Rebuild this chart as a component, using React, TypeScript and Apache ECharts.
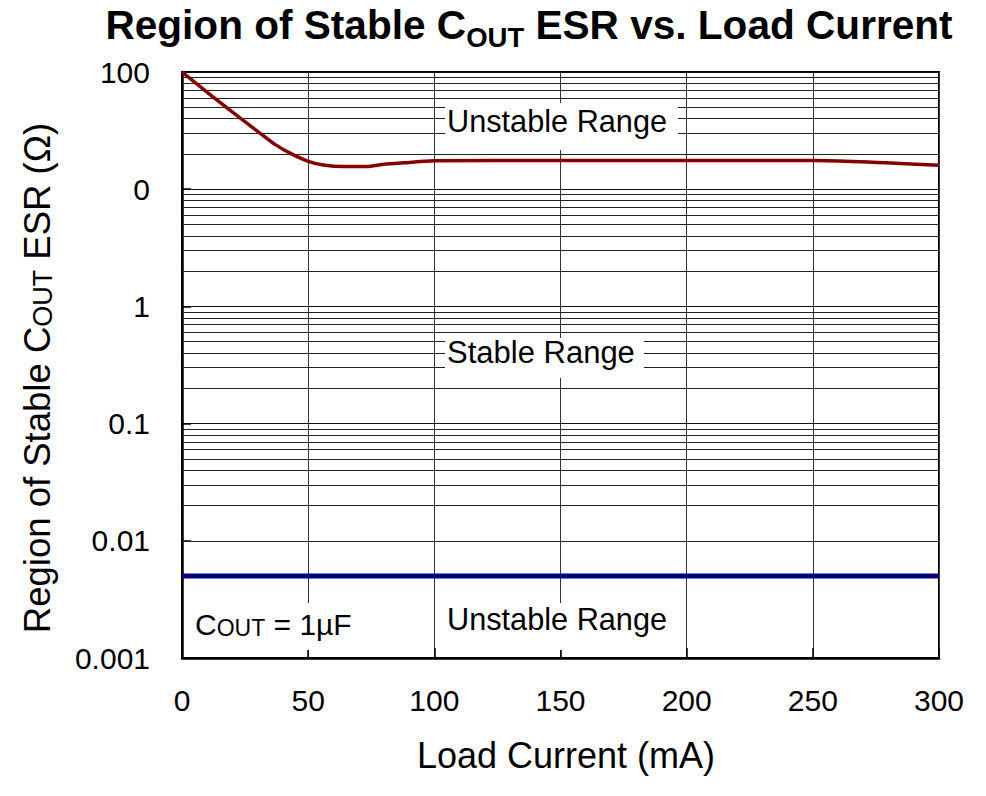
import React, { useEffect, useRef } from "react";
import * as echarts from "echarts";

// ---- data ----
const loadCurrent = [0, 12, 24, 31, 37, 43, 50, 56, 64, 73, 80, 88, 100, 150, 200, 250, 300];
const esrUpperLimit = [100, 62, 39, 30, 24, 20.2, 17.3, 16.1, 15.6, 15.6, 16.3, 16.8, 17.5, 17.6, 17.6, 17.6, 16.0];
const lowerLimitCurrent = [0, 300];
const esrLowerLimit = [0.005, 0.005];
const xTicks = [0, 50, 100, 150, 200, 250, 300];
const yTickLabels = ["0.001", "0.01", "0.1", "1", "0", "100"];
const yDecades = [0.001, 0.01, 0.1, 1, 10];
const minorMultipliers = [2, 3, 4, 5, 6, 7, 8, 9];

const FONT = "'Liberation Sans', Arial, Helvetica, sans-serif";

export default function App() {
  const ref = useRef<HTMLDivElement>(null);

  useEffect(() => {
    if (!ref.current) return;
    const chart = echarts.init(ref.current, undefined, { renderer: "svg" });

    const minorLines: { yAxis: number }[] = [];
    yDecades.forEach((d) => minorMultipliers.forEach((m) => minorLines.push({ yAxis: +(d * m).toPrecision(3) })));

    const option: any = {
      animation: false,
      backgroundColor: "#fff",
      grid: {
        left: 182,
        right: 47,
        top: 72,
        bottom: 138,
        show: true,
        borderColor: "#000",
        borderWidth: 2,
        backgroundColor: "transparent",
      },
      xAxis: {
        type: "value",
        min: xTicks[0],
        max: xTicks[xTicks.length - 1],
        interval: xTicks[1] - xTicks[0],
        axisLine: { show: true, lineStyle: { color: "#000", width: 2.5 } },
        axisTick: { show: true, inside: true, length: 10, lineStyle: { color: "#000", width: 1.5 } },
        axisLabel: { color: "#000", fontSize: 30, fontFamily: FONT, margin: 27 },
        splitLine: { show: true, lineStyle: { color: "#333", width: 1 } },
      },
      yAxis: {
        type: "log",
        logBase: 10,
        min: 0.001,
        max: 100,
        axisLine: { show: true, lineStyle: { color: "#000", width: 2.5 } },
        axisTick: { show: true, inside: true, length: 9, lineStyle: { color: "#000", width: 1.5 } },
        axisLabel: {
          color: "#000",
          fontSize: 30,
          fontFamily: FONT,
          margin: 32,
          formatter: (v: number) => yTickLabels[Math.round(Math.log10(v)) + 3] ?? "",
        },
        splitLine: { show: true, lineStyle: { color: "#111", width: 1 } },
        minorTick: { show: false },
        minorSplitLine: { show: false },
      },
      series: [
        {
          type: "line",
          name: "minor grid",
          data: [],
          z: 1,
          silent: true,
          markLine: {
            silent: true,
            symbol: ["none", "none"],
            label: { show: false },
            lineStyle: { color: "#222", width: 1, type: "solid" },
            emphasis: { disabled: true },
            data: minorLines,
          },
        },
        {
          type: "line",
          name: "upper",
          data: loadCurrent.map((x, i) => [x, esrUpperLimit[i]]),
          showSymbol: false,
          smooth: 0.25,
          lineStyle: { color: "#870000", width: 3.5 },
          z: 5,
        },
        {
          type: "line",
          name: "lower",
          data: lowerLimitCurrent.map((x, i) => [x, esrLowerLimit[i]]),
          showSymbol: false,
          lineStyle: { color: "#00007f", width: 5 },
          z: 5,
        },
      ],
      graphic: [
        {
          type: "text",
          x: 529,
          y: 28,
          z: 100,
          style: {
            text: "{b|Region of Stable C}{s|OUT}{b| ESR vs. Load Current}",
            align: "center",
            verticalAlign: "middle",
            fill: "#000",
            rich: {
              b: { fontSize: 40.6, fontWeight: "bold", fontFamily: FONT, verticalAlign: "top" },
              s: { fontSize: 27.5, fontWeight: "bold", fontFamily: FONT, verticalAlign: "top", padding: [19, 0, 0, 0] },
            },
          },
        },
        {
          type: "text",
          x: 566,
          y: 755,
          z: 100,
          style: {
            text: "Load Current (mA)",
            align: "center",
            verticalAlign: "middle",
            fill: "#000",
            fontSize: 36,
            fontFamily: FONT,
          },
        },
        {
          type: "text",
          x: 38,
          y: 378,
          rotation: Math.PI / 2,
          z: 100,
          style: {
            text: "{n|Region of Stable C}{s|OUT}{n| ESR (Ω)}",
            align: "center",
            verticalAlign: "middle",
            fill: "#000",
            rich: {
              n: { fontSize: 36.5, fontFamily: FONT, lineHeight: 36, verticalAlign: "bottom" },
              s: { fontSize: 27, fontFamily: FONT, lineHeight: 27, verticalAlign: "bottom" },
            },
          },
        },
        // annotation boxes
        { type: "rect", z: 50, shape: { x: 445, y: 103, width: 233, height: 47 }, style: { fill: "#fff" } },
        { type: "rect", z: 50, shape: { x: 445, y: 338, width: 199, height: 40 }, style: { fill: "#fff" } },
        { type: "rect", z: 50, shape: { x: 443, y: 603, width: 234, height: 47 }, style: { fill: "#fff" } },
        { type: "rect", z: 50, shape: { x: 192, y: 603, width: 166, height: 47 }, style: { fill: "#fff" } },
        {
          type: "text",
          x: 447,
          y: 121,
          z: 101,
          style: { text: "Unstable Range", align: "left", verticalAlign: "middle", fill: "#000", fontSize: 30.7, fontFamily: FONT },
        },
        {
          type: "text",
          x: 447,
          y: 352.5,
          z: 101,
          style: { text: "Stable Range", align: "left", verticalAlign: "middle", fill: "#000", fontSize: 31, fontFamily: FONT },
        },
        {
          type: "text",
          x: 447,
          y: 619.5,
          z: 101,
          style: { text: "Unstable Range", align: "left", verticalAlign: "middle", fill: "#000", fontSize: 30.7, fontFamily: FONT },
        },
        {
          type: "text",
          x: 195,
          y: 624,
          z: 101,
          style: {
            text: "{n|C}{s|OUT}{n| = 1µF}",
            align: "left",
            verticalAlign: "middle",
            fill: "#000",
            rich: {
              n: { fontSize: 30, fontFamily: FONT, lineHeight: 30, verticalAlign: "bottom" },
              s: { fontSize: 23, fontFamily: FONT, lineHeight: 21, verticalAlign: "bottom" },
            },
          },
        },
      ],
    };

    chart.setOption(option);
    return () => chart.dispose();
  }, []);

  return (
    <div
      ref={ref}
      style={{ position: "fixed", left: 0, top: 0, width: 986, height: 796, background: "#fff" }}
    />
  );
}
